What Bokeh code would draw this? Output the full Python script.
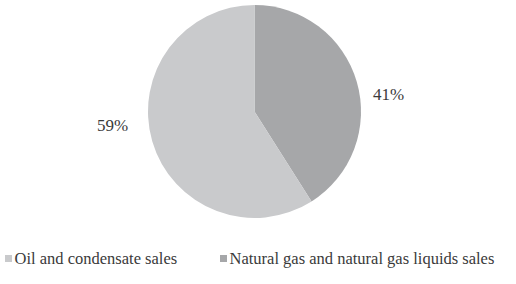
import numpy as np
from bokeh.plotting import figure
from bokeh.models import ColumnDataSource, Range1d
from bokeh.core.properties import value
from bokeh.embed import file_html
from bokeh.resources import INLINE

# Data
categories = ["Natural gas and natural gas liquids sales", "Oil and condensate sales"]
shares = [41, 59]
colors = ["#a6a7a9", "#c9cacc"]
labels = ["41%", "59%"]
legend_order = ["Oil and condensate sales", "Natural gas and natural gas liquids sales"]

FONT = value("'Liberation Serif', 'Times New Roman', serif")

W, H = 500, 268
p = figure(width=W, height=H, output_backend="svg", toolbar_location=None,
           x_range=Range1d(0, W), y_range=Range1d(0, H), min_border=0)
p.axis.visible = False
p.grid.visible = False
p.outline_line_color = None
p.background_fill_color = "white"

cx, cy, r = 254, 157, 106.5
vals = np.array(shares, dtype=float)
frac = vals / vals.sum()
ends = np.cumsum(frac) * 2 * np.pi
starts = np.concatenate([[0], ends[:-1]])
start_angle = np.pi / 2 - starts
end_angle = np.pi / 2 - ends

src = ColumnDataSource(dict(start=start_angle, end=end_angle, color=colors, cat=categories))
p.wedge(x=cx, y=cy, radius=r, start_angle="start", end_angle="end", direction="clock",
        fill_color="color", line_color=None, source=src)

# percentage labels
lab_x = [388, 112]
lab_y = [174, 143]
p.text(x=lab_x, y=lab_y, text=labels, text_font=FONT,
       text_font_size="17px", text_color="#3a3a3a", text_align="center", text_baseline="middle")

# custom legend
col_map = dict(zip(categories, colors))
sq_x = [8, 223]
txt_x = [14, 229]
leg_y = 10
p.rect(x=sq_x, y=[leg_y] * 2, width=7, height=7, fill_color=[col_map[c] for c in legend_order],
       line_color=None)
p.text(x=txt_x, y=[leg_y] * 2, text=legend_order, text_font=FONT,
       text_font_size="16.5px", text_color="#3a3a3a", text_align="left", text_baseline="middle")

open("out.html", "w").write(file_html(p, INLINE))
